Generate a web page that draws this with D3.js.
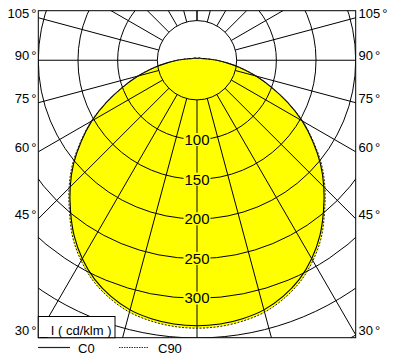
<!DOCTYPE html>
<html><head><meta charset="utf-8">
<script src="https://cdn.jsdelivr.net/npm/d3@7"></script>
<style>body{margin:0;background:#fff}svg{display:block;font-family:"Liberation Sans",Arial,Helvetica,sans-serif}</style>
</head><body><svg id="c" width="394" height="362"></svg>
<script>
// polar angles (deg, 0 = straight down) and intensities (cd/klm)
const angles = [0,5,10,15,20,25,30,35,40,45,50,55,60,65,70,75,80,85,90,95,100,105,120,135,150,165,180];
const c0  = [335,334,331,326,317,305,289,270,248,226,203,178,153,126,100,77,56,38,25,16,11,8,5,4,3,2.5,2.5];
const c90 = [338,337,334,329,320,308,292,273,250,228,205,179,154,126,100,77,56,38,25,16,11,8,5,4,3,2.5,2.5];
const ringValues = [50,100,150,200,250,300,350,400,450];
const ringLabels = [100,150,200,250,300];
const spokeAngles = d3.range(-180,181,15);
const angleLabels = [30,45,60,75,90,105];
const legendTitle = "_ I ( cd/klm )";
const seriesNames = ["C0","C90"];

const svg = d3.select("#c");
const x = d3.scaleLinear().domain([-200,200]).range([38.3,355.7]);
const y = d3.scaleLinear().domain([-62.5,350]).range([10.7,337.7]);
const R = v => x(v) - x(0);
const rad = a => a*Math.PI/180;
const P = (a,v) => [x(v*Math.sin(rad(a))), y(v*Math.cos(rad(a)))];

svg.append("defs").append("clipPath").attr("id","fr").append("rect")
  .attr("x",x(-200)).attr("y",y(-62.5)).attr("width",x(200)-x(-200)).attr("height",y(350)-y(-62.5));

function fullPts(vals){
  const pts = angles.map((a,i)=>[a,vals[i]]);
  const left = pts.slice(1,-1).reverse().map(([a,v])=>[-a,v]).reverse();
  // left from -165 .. -5
  const L = pts.slice(1,-1).map(([a,v])=>[-a,v]).reverse();
  return [...L, ...pts].map(([a,v])=>P(a,v));
}
const line = d3.line().curve(d3.curveCatmullRomClosed.alpha(0.5));

// yellow fill
svg.append("path").attr("d",line(fullPts(c90))).attr("fill","#ffff00");

const g = svg.append("g").attr("clip-path","url(#fr)");
// rings
g.selectAll("circle.ring").data(ringValues).join("circle")
  .attr("cx",x(0)).attr("cy",y(0)).attr("r",d=>R(d))
  .attr("fill","none").attr("stroke","#000").attr("stroke-width",1);
// spokes
g.selectAll("line.sp").data(spokeAngles).join("line")
  .attr("x1",d=>P(d,50)[0]).attr("y1",d=>P(d,50)[1])
  .attr("x2",d=>P(d,600)[0]).attr("y2",d=>P(d,600)[1])
  .attr("stroke","#000").attr("stroke-width",1);

// curves
svg.append("path").attr("d",line(fullPts(c0))).attr("fill","none").attr("stroke","#000").attr("stroke-width",1.1);
svg.append("path").attr("d",line(fullPts(c90))).attr("fill","none").attr("stroke","#222").attr("stroke-width",1).attr("stroke-dasharray","2,1.5");

// frame
svg.append("rect").attr("x",x(-200)).attr("y",y(-62.5)).attr("width",x(200)-x(-200)).attr("height",y(350)-y(-62.5))
  .attr("fill","none").attr("stroke","#000").attr("stroke-width",1);

// ring labels
const lg = svg.append("g");
ringLabels.forEach(v=>{
  const t = lg.append("text").attr("x",x(0)).attr("y",y(v)+15*0.36).attr("text-anchor","middle")
    .attr("font-size",15).attr("fill","#000").text(v);
  const b = t.node().getBBox();
  lg.insert("rect","text").attr("x",b.x-1).attr("y",y(v)-6.5).attr("width",b.width+2).attr("height",13).attr("fill","#ffff00");
});

// angle labels
angleLabels.forEach(a=>{
  const yy = y(200/Math.tan(rad(a)));
  const tl = svg.append("text").attr("x",36.5).attr("y",yy).attr("text-anchor","end").attr("font-size",13).attr("fill","#000");
  tl.append("tspan").text(a); tl.append("tspan").attr("dx",2).text("°");
  const tr = svg.append("text").attr("x",358.5).attr("y",yy).attr("text-anchor","start").attr("font-size",13).attr("fill","#000");
  tr.append("tspan").text(a); tr.append("tspan").attr("dx",2).text("°");
});

// unit box
svg.append("rect").attr("x",x(-200)).attr("y",316.5).attr("width",76.7).attr("height",y(350)-316.5)
  .attr("fill","#fff").attr("stroke","#000").attr("stroke-width",1);
svg.append("text").attr("x",40).attr("y",335).attr("font-size",13).attr("fill","#000").text(legendTitle);

// series legend
svg.append("line").attr("x1",38).attr("x2",70).attr("y1",347.5).attr("y2",347.5).attr("stroke","#222").attr("stroke-width",1.2);
svg.append("text").attr("x",78).attr("y",353).attr("font-size",13).attr("fill","#000").text(seriesNames[0]);
svg.append("line").attr("x1",119).attr("x2",149).attr("y1",347.5).attr("y2",347.5).attr("stroke","#333").attr("stroke-width",1).attr("stroke-dasharray","1.5,1");
svg.append("text").attr("x",158).attr("y",353).attr("font-size",13).attr("fill","#000").text(seriesNames[1]);
</script></body></html>
